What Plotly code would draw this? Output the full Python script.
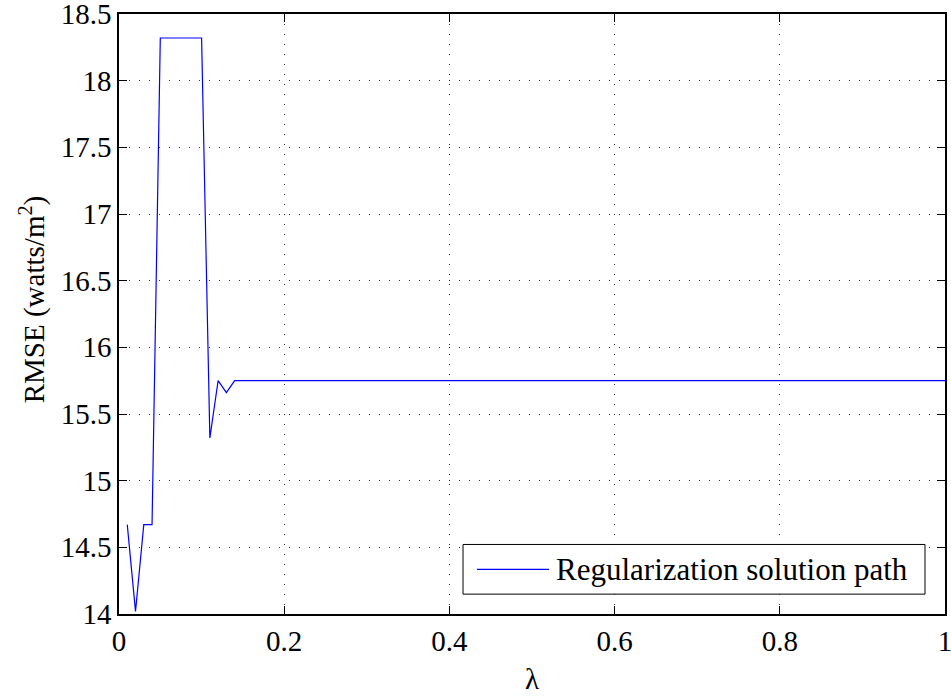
import plotly.graph_objects as go

# Data
lam = [0.01, 0.02, 0.03, 0.04, 0.05, 0.10, 0.11, 0.12, 0.13, 0.14, 1.0]
rmse = [14.67, 14.02, 14.67, 14.67, 18.32, 18.32, 15.32, 15.75, 15.66, 15.75, 15.75]
series_name = "Regularization solution path"

x_ticks = [0, 0.2, 0.4, 0.6, 0.8, 1]
x_ticktext = ["0", "0.2", "0.4", "0.6", "0.8", "1"]
y_ticks = [14, 14.5, 15, 15.5, 16, 16.5, 17, 17.5, 18, 18.5]
y_ticktext = ["14", "14.5", "15", "15.5", "16", "16.5", "17", "17.5", "18", "18.5"]

FONT = "Liberation Serif, Times New Roman, serif"
LINE_COLOR = "rgb(0,0,255)"

fig = go.Figure()
fig.add_trace(go.Scatter(
    x=lam, y=rmse, mode="lines", name=series_name, showlegend=False,
    line=dict(color=LINE_COLOR, width=1.2),
))

axis_common = dict(
    showline=True, linecolor="black", linewidth=1.5, mirror="allticks",
    ticks="inside", ticklen=8, tickwidth=1, tickcolor="black",
    showgrid=True, gridcolor="rgba(0,0,0,0.8)", gridwidth=1, griddash="1px,9px",
    zeroline=False, automargin=False, ticklabeloverflow="allow",
    tickfont=dict(family=FONT, size=29, color="black"),
)

fig.update_layout(
    width=951, height=699,
    margin=dict(l=119, r=6, t=14, b=85),
    paper_bgcolor="white", plot_bgcolor="white",
    font=dict(family=FONT, size=29, color="black"),
    xaxis=dict(range=[0, 1], tickvals=x_ticks, ticktext=x_ticktext,
               title=dict(text="λ", font=dict(family=FONT, size=29), standoff=13),
               **axis_common),
    yaxis=dict(range=[14, 18.5], tickvals=y_ticks, ticktext=y_ticktext,
               **axis_common),
    showlegend=False,
)

# y-axis title (placed as annotation to match vertical position)
fig.add_annotation(
    xref="paper", yref="paper", x=-0.105, y=0.525,
    text="RMSE (watts/m<sup>2</sup>)", textangle=-90, showarrow=False,
    font=dict(family=FONT, size=29, color="black"),
    xanchor="center", yanchor="middle",
)

# MATLAB-style legend box
fig.add_shape(type="rect", xref="paper", yref="paper",
              x0=0.4165, x1=0.9758, y0=0.0331, y1=0.1159,
              line=dict(color="black", width=1), fillcolor="white", layer="above")
fig.add_shape(type="line", xref="paper", yref="paper",
              x0=0.4334, x1=0.5206, y0=0.0745, y1=0.0745,
              line=dict(color=LINE_COLOR, width=1.2), layer="above")
fig.add_annotation(
    xref="paper", yref="paper", x=0.527, y=0.0745,
    text=series_name, showarrow=False, xanchor="left", yanchor="middle",
    font=dict(family=FONT, size=31, color="black"),
)

fig.write_html("out.html")
